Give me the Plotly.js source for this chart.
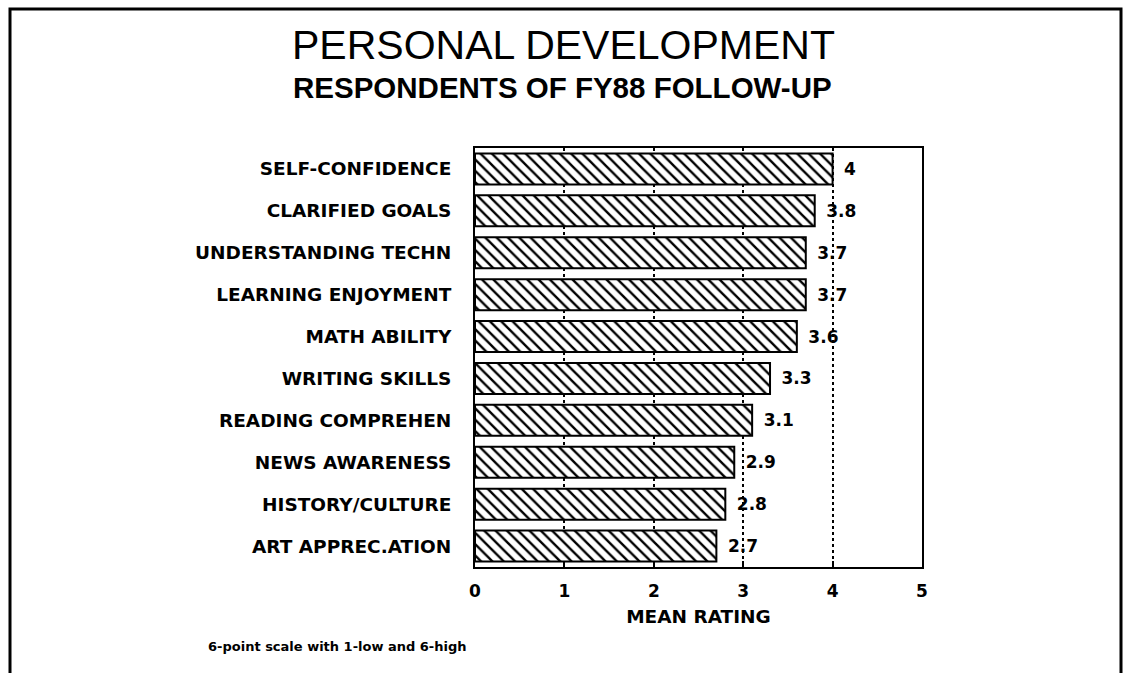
<!DOCTYPE html>
<html>
<head>
<meta charset="utf-8">
<script src="https://cdn.plot.ly/plotly-3.0.1.min.js"></script>
<style>
  html, body { margin: 0; padding: 0; background: #fff; }
  #chart { width: 1127px; height: 673px; }
</style>
</head>
<body>
<div id="chart"></div>
<script>
const categories = [
  "SELF-CONFIDENCE",
  "CLARIFIED GOALS",
  "UNDERSTANDING TECHN",
  "LEARNING ENJOYMENT",
  "MATH ABILITY",
  "WRITING SKILLS",
  "READING COMPREHEN",
  "NEWS AWARENESS",
  "HISTORY/CULTURE",
  "ART APPREC.ATION"
];
const meanRatings = [4, 3.8, 3.7, 3.7, 3.6, 3.3, 3.1, 2.9, 2.8, 2.7];
const xTickValues = [0, 1, 2, 3, 4, 5];
const xTickLabels = ["0", "1", "2", "3", "4", "5"];

const titleText = "PERSONAL DEVELOPMENT";
const subtitleText = "RESPONDENTS OF FY88 FOLLOW-UP";
const xAxisTitle = "MEAN RATING";
const footnoteText = "6-point scale with 1-low and 6-high";

const W = 1127, H = 673;
const M = { l: 475, r: 205, t: 148, b: 106 };
const pw = W - M.l - M.r, ph = H - M.t - M.b;
const px = x => (x - M.l) / pw;
const py = y => (H - M.b - y) / ph;

const labelFont = { family: "DejaVu Sans", size: 18.5, color: "#000", weight: "bold" };
const valueFont = { family: "DejaVu Sans", size: 17, color: "#000", weight: "bold" };

const trace = {
  type: "bar",
  orientation: "h",
  y: categories,
  x: meanRatings,
  text: meanRatings.map(v => "\u2002" + v),
  textposition: "outside",
  textfont: valueFont,
  cliponaxis: false,
  marker: {
    color: "#fff",
    line: { color: "#000", width: 2 },
    pattern: { shape: "\\", fgcolor: "#000", bgcolor: "#fff", size: 8, solidity: 0.3 }
  },
  hoverinfo: "x+y"
};

const layout = {
  width: W, height: H,
  margin: M,
  paper_bgcolor: "#fff",
  plot_bgcolor: "#fff",
  showlegend: false,
  bargap: 0.26,
  title: {
    text: titleText,
    font: { family: "Liberation Sans", size: 41, color: "#000" },
    x: 0.5, xref: "container", xanchor: "center",
    y: 1 - 45 / H, yref: "container", yanchor: "middle"
  },
  xaxis: {
    range: [0, 5],
    tickvals: xTickValues,
    ticktext: xTickLabels,
    tickfont: valueFont,
    ticklabelstandoff: 8,
    showgrid: true,
    gridcolor: "#000",
    griddash: "dot",
    gridwidth: 2,
    zeroline: false,
    showline: true,
    linecolor: "#000",
    linewidth: 2,
    mirror: true,
    ticks: "inside",
    ticklen: 6,
    tickwidth: 2,
    tickcolor: "#000",
    title: { text: xAxisTitle, font: labelFont, standoff: 10 }
  },
  yaxis: {
    autorange: "reversed",
    tickfont: labelFont,
    ticks: "",
    ticklabelstandoff: 18,
    showgrid: false,
    zeroline: false,
    showline: true,
    linecolor: "#000",
    linewidth: 2,
    mirror: true
  },
  annotations: [
    {
      text: subtitleText,
      xref: "paper", yref: "paper",
      x: px(562), y: py(88),
      xanchor: "center", yanchor: "middle",
      showarrow: false,
      font: { family: "Liberation Sans", size: 29.5, color: "#000", weight: "bold" }
    },
    {
      text: footnoteText,
      xref: "paper", yref: "paper",
      x: px(206), y: py(646),
      xanchor: "left", yanchor: "middle",
      showarrow: false,
      font: { family: "DejaVu Sans", size: 13, color: "#000", weight: "bold" }
    }
  ],
  shapes: [
    {
      type: "path",
      xref: "paper", yref: "paper",
      path: `M ${px(10)} ${py(673)} L ${px(10)} ${py(9)} L ${px(1121)} ${py(9)} L ${px(1121)} ${py(673)}`,
      line: { color: "#000", width: 3 },
      layer: "above"
    }
  ]
};

Plotly.newPlot("chart", [trace], layout, { displayModeBar: false, staticPlot: true });
</script>
</body>
</html>
